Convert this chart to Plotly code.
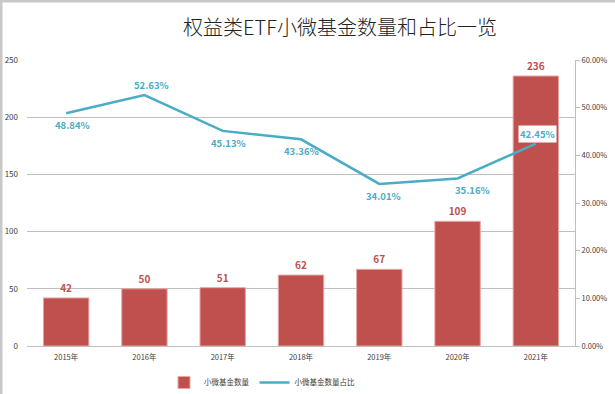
import plotly.graph_objects as go

years = ["2015年", "2016年", "2017年", "2018年", "2019年", "2020年", "2021年"]
counts = [42, 50, 51, 62, 67, 109, 236]
ratios = [48.84, 52.63, 45.13, 43.36, 34.01, 35.16, 42.45]
ratio_pos = ["below", "above", "below", "below", "below", "below", "above"]
ratio_xshift = [6, 7, 6, 0, 4, 15, 2]

title = "权益类ETF小微基金数量和占比一览"
bar_name = "小微基金数量"
line_name = "小微基金数量占比"

BAR = "#C0504D"
LINE = "#4BACC6"
FONT = "Noto Sans CJK SC"
GRID = "#BFBFBF"

W, H = 615, 394
ML, MR, MT, MB = 27, 40, 60, 48
PW, PH = W - ML - MR, H - MT - MB

fig = go.Figure()
fig.add_trace(go.Bar(
    x=years, y=counts, name=bar_name,
    marker=dict(color=BAR, line=dict(color="#E6A7A5", width=1)),
    text=[str(v) for v in counts], textposition="outside",
    textfont=dict(color=BAR, size=10, family=FONT, weight="bold"),
    cliponaxis=False,
))
fig.add_trace(go.Scatter(
    x=years, y=[r / 100 for r in ratios], name=line_name, yaxis="y2",
    mode="lines", line=dict(color=LINE, width=2.5),
))

for yr, r, pos, xs in zip(years, ratios, ratio_pos, ratio_xshift):
    fig.add_annotation(
        x=yr, y=r / 100, xref="x", yref="y2",
        text=f"{r:.2f}%", showarrow=False,
        yshift=(10 if pos == "above" else -12), xshift=xs,
        font=dict(color=LINE, size=9.5, family=FONT, weight="bold"),
        bgcolor="white" if yr == "2021年" else None,
        borderpad=1,
    )

# frame lines (top & left) in pixel-derived paper coords
def px_x(p):
    return (p - ML) / PW

def px_y(p):
    return 1 - (p - MT) / PH

fig.add_shape(type="rect", xref="paper", yref="paper",
              x0=px_x(0), x1=px_x(2.5), y0=px_y(H), y1=px_y(0),
              fillcolor="#C8C8C8", line=dict(width=0), layer="below")
fig.add_shape(type="rect", xref="paper", yref="paper",
              x0=px_x(0), x1=px_x(W), y0=px_y(2.5), y1=px_y(0),
              fillcolor="#C8C8C8", line=dict(width=0), layer="below")

fig.update_layout(
    width=W, height=H,
    margin=dict(l=ML, r=MR, t=MT, b=MB, autoexpand=False),
    paper_bgcolor="white", plot_bgcolor="white",
    font=dict(family=FONT, color="#404040", size=8),
    title=dict(text=title, x=340 / W, xanchor="center", y=1 - 28 / H, yanchor="middle",
               font=dict(size=20, color="#222222", family=FONT, weight=300)),
    bargap=0.42,
    showlegend=True,
    legend=dict(orientation="h", x=px_x(164), xanchor="left", y=px_y(368), yanchor="top",
                font=dict(size=7.5, color="#404040"), tracegroupgap=0, itemwidth=30),
    xaxis=dict(showline=True, linecolor=GRID, linewidth=1, ticks="", automargin=False,
               ticklabelstandoff=4, tickfont=dict(size=7.5, color="#404040")),
    yaxis=dict(range=[0, 250], dtick=50, showgrid=True, gridcolor=GRID, gridwidth=1,
               zeroline=False, showline=False, ticks="", ticklabelstandoff=8, automargin=False,
               tickfont=dict(size=8, color="#404040")),
    yaxis2=dict(range=[0, 0.6], dtick=0.1, tickformat=".2%", overlaying="y", side="right",
                showgrid=False, zeroline=False, showline=True, linecolor=GRID, linewidth=1,
                ticks="outside", ticklen=4, tickcolor=GRID, automargin=False,
                tickfont=dict(size=7.5, color="#404040")),
)

fig.write_html("out.html", config={"displayModeBar": False},
               post_script="document.body.style.margin='0';document.body.style.overflow='hidden';")
